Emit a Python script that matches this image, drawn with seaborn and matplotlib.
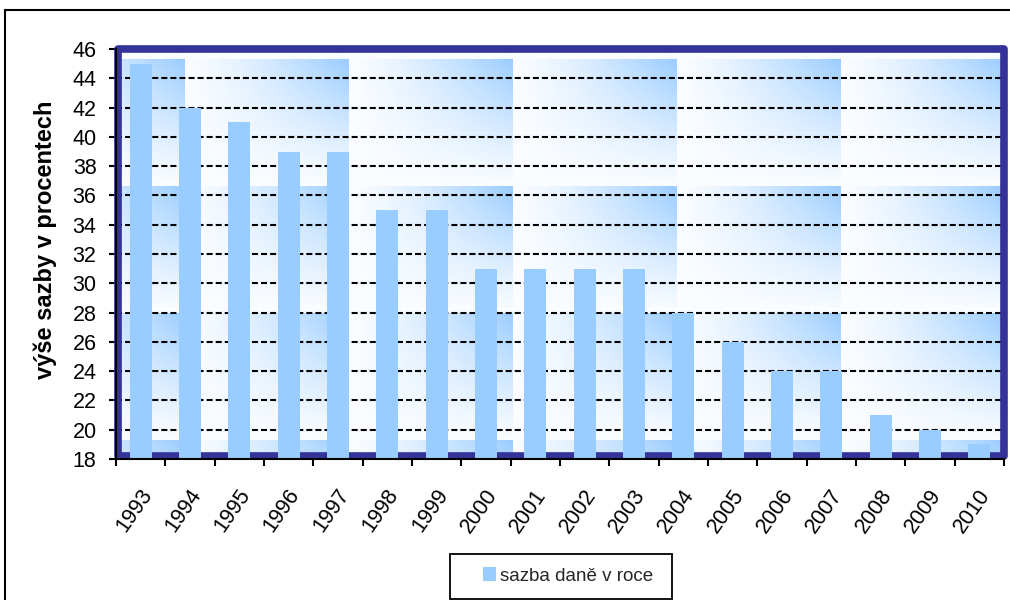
import numpy as np
import pandas as pd
import matplotlib
matplotlib.use("Agg")
import matplotlib.pyplot as plt
import matplotlib.transforms as mtransforms
from matplotlib.patches import Rectangle
from matplotlib.colors import to_rgb
import seaborn as sns

# ---- data -------------------------------------------------------------
years = ["1993", "1994", "1995", "1996", "1997", "1998", "1999", "2000", "2001",
         "2002", "2003", "2004", "2005", "2006", "2007", "2008", "2009", "2010"]
rates = [45, 42, 41, 39, 39, 35, 35, 31, 31, 31, 31, 28, 26, 24, 24, 21, 20, 19]
y_ticks = list(range(18, 47, 2))
series_label = "sazba daně v roce"
y_title = "výše sazby v procentech"

# ---- style ------------------------------------------------------------
sns.set_style("white")
plt.rcParams["font.family"] = ["Liberation Sans", "DejaVu Sans"]

BAR = "#99CCFF"
NAVY = "#333399"

W, H = 1010, 600
fig = plt.figure(figsize=(W / 100, H / 100), dpi=100)
fig.patch.set_facecolor("white")

# plot area in pixels
ax_l, ax_r, ax_t, ax_b = 116, 1004, 49, 459
aw, ah = ax_r - ax_l, ax_b - ax_t
ax = fig.add_axes([ax_l / W, 1 - ax_b / H, aw / W, ah / H])

df = pd.DataFrame({"rok": years, "sazba": rates})
sns.barplot(data=df, x="rok", y="sazba", color=BAR, saturation=1, width=0.45,
            ax=ax, zorder=3, label=series_label, edgecolor="none")

# tiled gradient fill of the plot area
tile_w, tile_h = 164, 127
px = np.arange(aw) + ax_l + 0.5
py = np.arange(ah) + ax_t + 0.5
u = ((px - 21) % tile_w) / tile_w
v = ((py - 59) % tile_h) / tile_h
U, V = np.meshgrid(u, v)
t = 0.04 + 0.96 * (U ** 1.3) * ((1 - V) ** 1.1)
white = np.ones(3)
blue = np.array(to_rgb(BAR))
img = white + (blue - white) * t[..., None]
ax.imshow(img, extent=(0, 1, 0, 1), transform=ax.transAxes, aspect="auto",
          zorder=0, interpolation="bilinear")

# navy frame around the plot area
fx0 = (118 - ax_l) / aw
fy0 = (ax_b - 456) / ah
frame = Rectangle((fx0, fy0), 1 - fx0, 1 - fy0, transform=ax.transAxes,
                  fill=False, ec=NAVY, lw=5.5, zorder=2, clip_on=False,
                  joinstyle="round")
ax.add_patch(frame)

# axes limits and ticks
ax.set_xlim(-0.5, len(years) - 0.5)
ax.set_ylim(18, 46)
ax.set_yticks(y_ticks)
ax.set_xticks(np.arange(-0.5, len(years), 1), minor=True)

ax.set_axisbelow(True)
ax.yaxis.grid(True, color="black", lw=1.5, linestyle=(0, (2.9, 1.45)), zorder=1)
ax.xaxis.grid(False)

for side in ["top", "right"]:
    ax.spines[side].set_visible(False)
for side in ["left", "bottom"]:
    ax.spines[side].set_color("black")
    ax.spines[side].set_linewidth(1.5)
    ax.spines[side].set_zorder(4)

ax.tick_params(axis="y", which="major", left=True, direction="out", length=5,
               width=1.5, color="black", labelsize=15.5, pad=9,
               labelcolor="black")
ax.tick_params(axis="x", which="minor", bottom=True, direction="out", length=5,
               width=1.5, color="black")
ax.tick_params(axis="x", which="major", bottom=False, length=0, pad=23,
               labelsize=15.5, labelcolor="black")

shift = mtransforms.ScaledTranslation(7 / 100, 0, fig.dpi_scale_trans)
for lbl in ax.get_xticklabels():
    lbl.set_rotation(55)
    lbl.set_rotation_mode("anchor")
    lbl.set_ha("right")
    lbl.set_va("center")
    lbl.set_transform(lbl.get_transform() + shift)

ax.set_xlabel("")
ax.set_ylabel(y_title, fontsize=17, fontweight="bold", color="black")
ax.yaxis.set_label_coords((45 - ax_l) / aw, (ax_b - 240) / ah)
ax.yaxis.label.set_va("center")

# legend with its own box
leg = ax.legend(loc="center", bbox_to_anchor=(568 / W, 1 - 576 / H),
                bbox_transform=fig.transFigure, frameon=False, fontsize=13.5,
                handlelength=0.7, handleheight=0.7, handletextpad=0.2,
                borderpad=0)
fig.add_artist(Rectangle((450 / W, 1 - 599 / H), 222 / W, 45 / H,
                         transform=fig.transFigure, fill=False, ec="black",
                         lw=1.3))

# outer chart border
fig.add_artist(Rectangle((5 / W, -0.1), 1.2, (1 - 10 / H) + 0.1,
                         transform=fig.transFigure, fill=False, ec="black",
                         lw=1.5))

fig.savefig("out.png", dpi=100, facecolor="white")
